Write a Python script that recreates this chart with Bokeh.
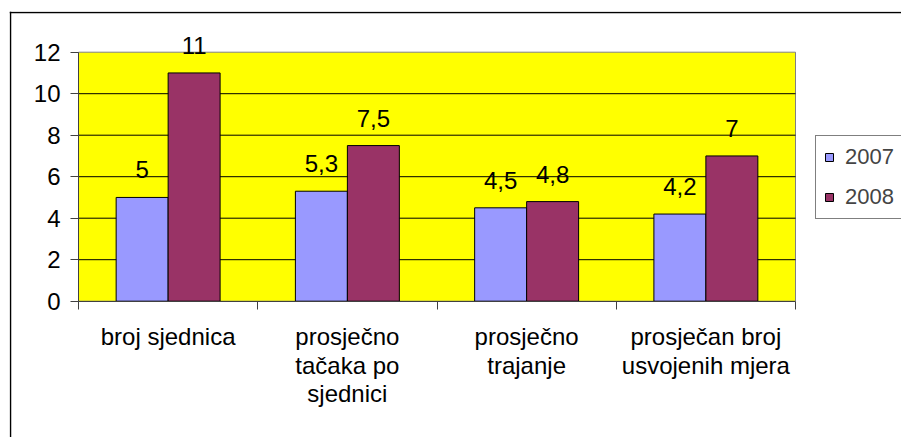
from bokeh.plotting import figure
from bokeh.models import (ColumnDataSource, FixedTicker, LabelSet, Legend, LegendItem,
                          Span, Range1d)
from bokeh.core.properties import value
from bokeh.transform import dodge
from bokeh.embed import file_html
from bokeh.resources import INLINE

# ---- data ----
categories = ["broj sjednica", "prosječno\ntačaka po\nsjednici",
              "prosječno\ntrajanje", "prosječan broj\nusvojenih mjera"]
series_names = ["2007", "2008"]
values_2007 = [5, 5.3, 4.5, 4.2]
values_2008 = [11, 7.5, 4.8, 7]
y_ticks = [0, 2, 4, 6, 8, 10, 12]
colors = ["#9999FF", "#993366"]


def fmt(v):
    return ("%g" % v).replace(".", ",")


idx = list(range(len(categories)))
source = ColumnDataSource(dict(
    x=idx,
    v2007=values_2007,
    v2008=values_2008,
    l2007=[fmt(v) for v in values_2007],
    l2008=[fmt(v) for v in values_2008],
))

FONT = "Liberation Sans"

# ---- layout (pixels) ----
W, H = 901, 437
FL, FT = 9, 11                # frame left/top on canvas (frame runs to canvas right/bottom)
PL, PR = 78.0, 795.0          # plot area left/right
PT, PB = 51.7, 300.7          # plot area top/bottom
x0, x1 = idx[0] - 0.5, idx[-1] + 0.5
y0, y1 = y_ticks[0], y_ticks[-1]
sx = (PR - PL) / (x1 - x0)
sy = (PB - PT) / (y1 - y0)
xr = Range1d(x0 - (PL - FL) / sx, x1 + (W - PR) / sx)
yr = Range1d(y0 - (H - PB) / sy, y1 + (PT - FT) / sy)

p = figure(width=W, height=H, x_range=xr, y_range=yr,
           output_backend="svg", toolbar_location=None,
           min_border_left=FL, min_border_right=0,
           min_border_top=FT, min_border_bottom=0)

p.background_fill_color = "white"
p.border_fill_color = "white"
p.outline_line_color = None
p.outline_line_alpha = 0

# yellow plot area
p.quad(left=x0, right=x1, bottom=y0, top=y1, fill_color="#FFFF00",
       line_color="#808080", line_width=1, level="image")

# horizontal gridlines limited to the plot area
gt = y_ticks[1:-1]
p.segment(x0=[x0] * len(gt), x1=[x1] * len(gt), y0=gt, y1=gt,
          line_color="black", line_width=1, level="underlay")
p.xgrid.visible = False
p.ygrid.visible = False

# y axis
p.yaxis.fixed_location = x0
p.yaxis.bounds = (y0, y1)
p.yaxis.ticker = FixedTicker(ticks=y_ticks)
p.yaxis.major_tick_out = 8
p.yaxis.major_tick_in = 0
p.yaxis.minor_tick_out = 0
p.yaxis.minor_tick_in = 0
p.yaxis.axis_line_color = "#404040"
p.yaxis.major_tick_line_color = "#404040"
p.yaxis.major_label_text_font = FONT
p.yaxis.major_label_text_font_size = "24px"
p.yaxis.major_label_text_color = "black"
p.yaxis.major_label_standoff = 10

# x axis
p.xaxis.fixed_location = y0
p.xaxis.bounds = (x0, x1)
p.xaxis.ticker = FixedTicker(ticks=idx, minor_ticks=[i - 0.5 for i in range(len(categories) + 1)])
p.xaxis.major_label_overrides = {i: c for i, c in zip(idx, categories)}
p.xaxis.major_tick_out = 0
p.xaxis.major_tick_in = 0
p.xaxis.minor_tick_out = 8
p.xaxis.minor_tick_in = 0
p.xaxis.axis_line_color = "#404040"
p.xaxis.minor_tick_line_color = "#404040"
p.xaxis.major_label_text_font = FONT
p.xaxis.major_label_text_font_size = "24px"
p.xaxis.major_label_text_color = "black"
p.xaxis.major_label_text_line_height = 1.05
p.xaxis.major_label_standoff = 14

bw = 0.29
r1 = p.vbar(x=dodge("x", -bw / 2, range=p.x_range), top="v2007", width=bw, bottom=0,
            source=source, fill_color=colors[0], line_color="black", line_width=1)
r2 = p.vbar(x=dodge("x", bw / 2, range=p.x_range), top="v2008", width=bw, bottom=0,
            source=source, fill_color=colors[1], line_color="black", line_width=1)

for col, lab, off in [("v2007", "l2007", -bw / 2), ("v2008", "l2008", bw / 2)]:
    ls = LabelSet(x=dodge("x", off, range=p.x_range), y=col, text=lab, source=source,
                  text_align="center", text_baseline="alphabetic", y_offset=19,
                  text_font=value(FONT), text_font_size="24px", text_color="black")
    p.add_layout(ls)

legend = Legend(items=[LegendItem(label=series_names[0], renderers=[r1]),
                       LegendItem(label=series_names[1], renderers=[r2])],
                location=(815 - FL, H - 219), orientation="vertical")
legend.border_line_color = "black"
legend.border_line_width = 1
legend.background_fill_color = "white"
legend.background_fill_alpha = 1
legend.label_text_font = FONT
legend.label_text_font_size = "22px"
legend.glyph_width = 10
legend.glyph_height = 10
legend.label_standoff = 11
legend.padding = 8
legend.spacing = 14
legend.margin = 0
p.add_layout(legend)

# outer chart border (only left/top edges fall inside the picture)
p.add_layout(Span(location=10, location_units="canvas", dimension="height",
                  line_color="black", line_width=1.5))
p.add_layout(Span(location=12, location_units="canvas", dimension="width",
                  line_color="black", line_width=1.5))

open("out.html", "w").write(file_html(p, INLINE))
